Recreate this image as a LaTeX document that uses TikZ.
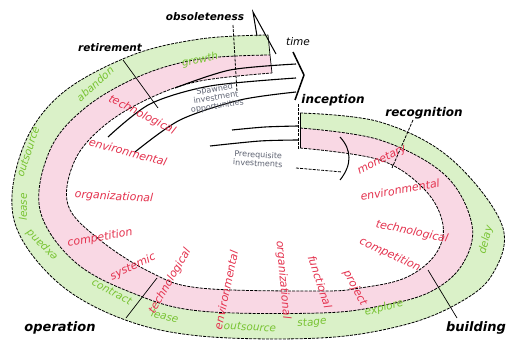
\documentclass[tikz,border=0pt]{standalone}
\usepackage{fontspec}
\setsansfont{DejaVu Sans}
\definecolor{gfill}{RGB}{218,241,200}
\definecolor{pfill}{RGB}{249,216,228}
\definecolor{gtext}{RGB}{120,195,50}
\definecolor{rtext}{RGB}{228,50,78}
\definecolor{itext}{RGB}{95,100,115}
\begin{document}
\begin{tikzpicture}[x=1pt,y=-1pt,
  bandline/.style={black,line width=0.8pt,dash pattern=on 3pt off 1.2pt},
  leader/.style={black,line width=0.7pt},
  stagelbl/.style={font=\sffamily\bfseries\itshape\fontsize{10.5}{12}\selectfont,inner sep=0pt},
  glbl/.style={font=\sffamily\itshape\fontsize{10.5}{11}\selectfont,text=gtext,inner sep=0pt},
  rlbl/.style={font=\sffamily\itshape\fontsize{11}{12}\selectfont,text=rtext,inner sep=0pt},
  ilbl/.style={font=\sffamily\fontsize{8}{8.5}\selectfont,text=itext,inner sep=0pt,align=center},
  curve/.style={black,line width=1.1pt}]
\useasboundingbox[fill=white] (0,0) rectangle (518,344);
\def\GO{(300,113) (380,122) (450,158) (502,225) (492,275) (455,305) (400,326) (320,338) (200,336) (120,318) (55,280) (14,220) (22,150) (60,95) (130,56) (200,39) (268,35)}
\def\GIrev{(270,55) (200,59) (140,76) (85,108) (50,150) (40,210) (75,262) (135,294) (200,311) (320,313) (380,306) (430,292) (462,265) (472,225) (445,175) (380,140) (300,128)}
\def\GI{(300,128) (380,140) (445,175) (472,225) (462,265) (430,292) (380,306) (320,313) (200,311) (135,294) (75,262) (40,210) (50,150) (85,108) (140,76) (200,59) (270,55)}
\def\PIrev{(272,73) (200,81) (150,98) (105,125) (75,160) (68,205) (100,240) (150,272) (200,288) (320,291) (360,288) (405,278) (435,255) (443,225) (425,190) (380,160) (300,148)}
\def\PI{(300,148) (380,160) (425,190) (443,225) (435,255) (405,278) (360,288) (320,291) (200,288) (150,272) (100,240) (68,205) (75,160) (105,125) (150,98) (200,81) (272,73)}
% bands
\fill[gfill] plot[smooth,tension=0.6] coordinates {\GO} -- plot[smooth,tension=0.6] coordinates {\GIrev} -- cycle;
\fill[pfill] plot[smooth,tension=0.6] coordinates {\GI} -- plot[smooth,tension=0.6] coordinates {\PIrev} -- cycle;
\draw[bandline] plot[smooth,tension=0.6] coordinates {\GO};
\draw[bandline] plot[smooth,tension=0.6] coordinates {\GI};
\draw[bandline] plot[smooth,tension=0.6] coordinates {\PI};
\draw[leader] (300,113) -- (300,148);
\draw[leader] (268,35) -- (270,55) -- (272,73);
% arrow head at end
\coordinate (ah0) at (257,36);
\coordinate (ah1) at (253,12);
\coordinate (ah2) at (276,54);
\draw[leader,line width=1pt] (ah0) -- (ah1) -- (ah2);
\coordinate (bh1) at (293,52);
\coordinate (bh2) at (304,75);
\coordinate (bh3) at (295,100);
\draw[black,line width=1.5pt,line join=round] (bh1) -- (bh2) -- (bh3);
\draw[curve] plot[smooth] coordinates {(175,88) (230,70) (296,64)};
\draw[curve] plot[smooth] coordinates {(108,137) (150,104) (210,86) (296,78)};
\draw[curve] plot[smooth] coordinates {(135,152) (180,120) (240,100) (296,92)};
% prerequisite
\draw[curve] plot[smooth] coordinates {(232,130) (265,127) (298,126)};
\draw[curve] plot[smooth] coordinates {(210,146) (260,141) (298,140)};
\draw[leader,line width=1pt] (340,137) .. controls (352,150) and (352,165) .. (340,180);
\draw[bandline] (296,168) -- (342,172);
% leaders
\draw[leader] (123,60) -- (158,108);
\draw[bandline] (233,25) -- (237,92);
\draw[bandline] (298,104) -- (298,150);
\draw[bandline] (413,120) -- (392,168);
\draw[leader] (428,270) -- (457,318);
\draw[leader] (157,278) -- (126,318);
% stage labels
\node[stagelbl] (obs) at (205,17) {obsoleteness};
\node[stagelbl] (ret) at (110,48) {retirement};
\node[stagelbl,font=\sffamily\itshape\fontsize{10.5}{12}\selectfont] (tim) at (298,42) {time};
\node[stagelbl,font=\sffamily\bfseries\itshape\fontsize{12}{12}\selectfont] (inc) at (333,100) {inception};
\node[stagelbl,font=\sffamily\bfseries\itshape\fontsize{12}{12}\selectfont] (rec) at (424,113) {recognition};
\node[stagelbl,font=\sffamily\bfseries\itshape\fontsize{13}{12}\selectfont] (bld) at (476,328) {building};
\node[stagelbl,font=\sffamily\bfseries\itshape\fontsize{13}{12}\selectfont] (ope) at (60,328) {operation};
% green labels
\node[glbl,rotate=12] (g1) at (200,60) {growth};
\node[glbl,rotate=42] (g2) at (95,84) {abandon};
\node[glbl,rotate=72] (g3) at (28,152) {outsource};
\node[glbl,rotate=90] (g4) at (23,207) {lease};
\node[glbl,rotate=135] (g5) at (42,245) {expand};
\node[glbl,rotate=-28] (g6) at (112,292) {contract};
\node[glbl,rotate=-14] (g7) at (165,316) {lease};
\node[glbl,rotate=-3] (g8) at (250,327) {outsource};
\node[glbl,rotate=5] (g9) at (312,323) {stage};
\node[glbl,rotate=15] (g10) at (384,308) {explore};
\node[glbl,rotate=75] (g11) at (486,240) {delay};
% red labels
\node[rlbl,rotate=-27] (r1) at (142,115) {technological};
\node[rlbl,rotate=-15] (r2) at (128,152) {environmental};
\node[rlbl,rotate=-3] (r3) at (114,197) {organizational};
\node[rlbl,rotate=10] (r4) at (100,238) {competition};
\node[rlbl,rotate=25] (r5) at (133,267) {systemic};
\node[rlbl,rotate=60] (r6) at (170,281) {technological};
\node[rlbl,rotate=78] (r7) at (226,290) {environmental};
\node[rlbl,rotate=-85] (r8) at (283,280) {organizational};
\node[rlbl,rotate=-72] (r9) at (320,282) {functional};
\node[rlbl,rotate=-62] (r10) at (355,288) {project};
\node[rlbl,rotate=-25] (r11) at (390,255) {competition};
\node[rlbl,rotate=-12] (r12) at (412,232) {technological};
\node[rlbl,rotate=10] (r13) at (400,190) {environmental};
\node[rlbl,rotate=27] (r14) at (382,160) {monetary};
% inner labels
\node[ilbl,rotate=9] (sp) at (216,98) {Spawned\\investment\\opportunities};
\node[ilbl,rotate=-3] (pr) at (258,159) {Prerequisite\\investments};
\end{tikzpicture}
\end{document}
